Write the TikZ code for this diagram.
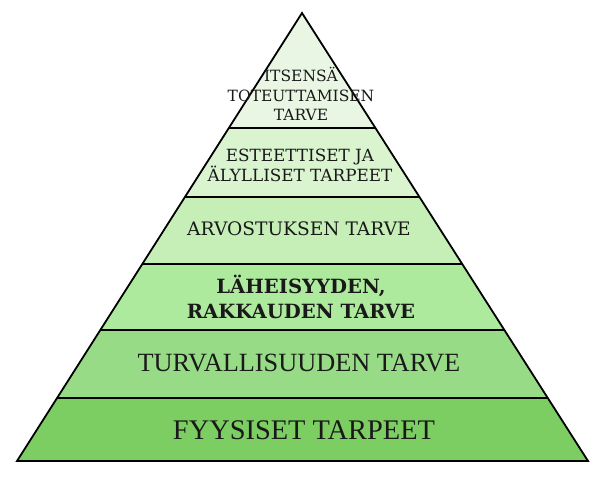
\documentclass[tikz,border=0pt]{standalone}
\usepackage{fontspec}
\setmainfont{DejaVu Serif}
\newfontfamily\timesfont{Liberation Serif}
\usetikzlibrary{calc}
\definecolor{bandA}{HTML}{EAF6E4}
\definecolor{bandB}{HTML}{DAF4D0}
\definecolor{bandC}{HTML}{C6EFB8}
\definecolor{bandD}{HTML}{AEEA9E}
\definecolor{bandE}{HTML}{98DB86}
\definecolor{bandF}{HTML}{7CCD62}
\tikzset{
  band/.style={fill=#1, draw=none},
  edge/.style={draw=black, line width=1.8pt, line join=miter},
  sep/.style={draw=black, line width=1.8pt},
  lbl/.style={align=center, inner sep=0pt, text=black!90},
}
\begin{document}
\begin{tikzpicture}[x=1pt,y=-1pt]
\useasboundingbox (0,0) rectangle (606,487);
\fill[white] (0,0) rectangle (606,487);
\coordinate (A) at (302,13);
\coordinate (BL) at (17,461);
\coordinate (BR) at (588,461);
\foreach \n/\t in {1/0.2567,2/0.4107,3/0.5603,4/0.7076,5/0.8594}{
  \coordinate (L\n) at ($(A)!\t!(BL)$);
  \coordinate (R\n) at ($(A)!\t!(BR)$);
}
\path[band=bandA] (A) -- (L1) -- (R1) -- cycle;
\path[band=bandB] (L1) -- (L2) -- (R2) -- (R1) -- cycle;
\path[band=bandC] (L2) -- (L3) -- (R3) -- (R2) -- cycle;
\path[band=bandD] (L3) -- (L4) -- (R4) -- (R3) -- cycle;
\path[band=bandE] (L4) -- (L5) -- (R5) -- (R4) -- cycle;
\path[band=bandF] (L5) -- (BL) -- (BR) -- (R5) -- cycle;
\foreach \n in {1,...,5}{ \draw[sep] (L\n) -- (R\n); }
\draw[edge] (A) -- (BL) -- (BR) -- cycle;

\node[lbl, font=\fontsize{15.5}{19.2}\selectfont] (t1) at (301,94) {ITSENSÄ\\TOTEUTTAMISEN\\TARVE};
\node[lbl, font=\fontsize{16.8}{18.8}\selectfont] (t2) at (300,165) {ESTEETTISET JA\\ÄLYLLISET TARPEET};
\node[lbl, font=\fontsize{18.6}{22}\selectfont] (t3) at (299,229) {ARVOSTUKSEN TARVE};
\node[lbl, font=\bfseries\fontsize{19.6}{24.5}\selectfont] (t4) at (301,297) {LÄHEISYYDEN,\\RAKKAUDEN TARVE};
\node[lbl, font=\timesfont\fontsize{26.3}{30}\selectfont] (t5) at (299,363) {TURVALLISUUDEN TARVE};
\node[lbl, font=\timesfont\fontsize{28.4}{30}\selectfont] (t6) at (304,430) {FYYSISET TARPEET};
\end{tikzpicture}
\end{document}
